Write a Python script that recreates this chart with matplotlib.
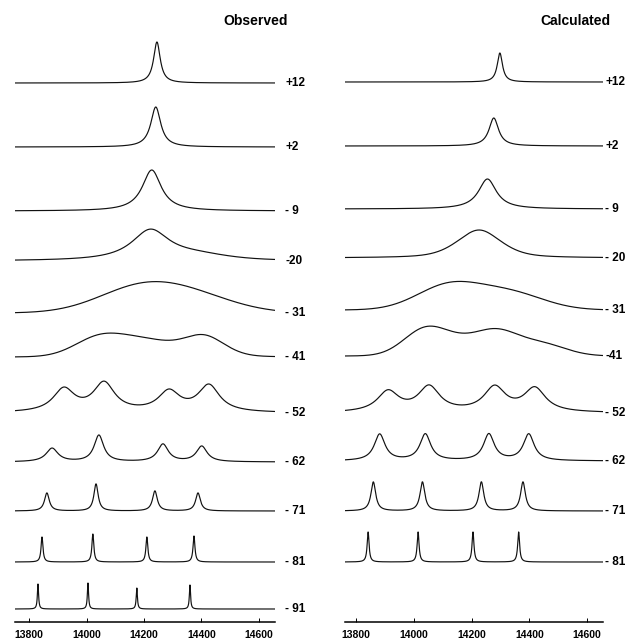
import numpy as np
import matplotlib.pyplot as plt

plt.rcParams["font.family"] = ["Liberation Sans", "DejaVu Sans"]

# temperature labels (deg C) for each trace
obs_labels = ["+12", "+2", "- 9", "-20", "- 31", "- 41", "- 52", "- 62", "- 71", "- 81", "- 91"]
calc_labels = ["+12", "+2", "- 9", "- 20", "- 31", "-41", "- 52", "- 62", "- 71", "- 81"]

# peaks: (centre Hz, fwhm Hz, height, lorentzian fraction)
obs_peaks = [
    [(14245, 28, 41, 1)],
    [(14241, 42, 40, 1)],
    [(14227, 80, 41, 1)],
    [(14222, 160, 30, 1), (14380, 260, 5, 0.5)],
    [(14185, 350, 24, 0), (14380, 350, 14, 0)],
    [(14040, 200, 17, 0), (14200, 250, 16, 0), (14410, 170, 20, 0.2)],
    [(13921, 90, 22.8, 1), (14061, 90, 28.6, 1), (14287, 90, 20.1, 1), (14426, 90, 26.5, 1)],
    [(13880, 50, 13.5, 1), (14043, 40, 26.5, 1), (14266, 45, 17.5, 1), (14401, 45, 15.5, 1)],
    [(13862, 20, 18, 1), (14033, 18, 27, 1), (14238, 20, 20, 1), (14388, 20, 18, 1)],
    [(13845, 8, 25, 1), (14022, 8, 28, 1), (14210, 8, 25, 1), (14374, 8, 26, 1)],
    [(13831, 5, 25, 1), (14005, 5, 26, 1), (14175, 5, 21, 1), (14360, 5, 24, 1)],
]
calc_peaks = [
    [(14298, 22, 29, 1)],
    [(14277, 40, 28, 1)],
    [(14255, 75, 30, 1)],
    [(14226, 180, 28, 0.5)],
    [(14120, 260, 24, 0), (14330, 280, 17, 0)],
    [(14045, 180, 28, 0), (14160, 150, 7, 0), (14280, 180, 24, 0), (14440, 200, 12, 0)],
    [(13911, 90, 20.5, 1), (14053, 90, 25, 1), (14280, 90, 24.5, 1), (14419, 90, 23.5, 1)],
    [(13882, 45, 26.5, 1), (14040, 45, 26.5, 1), (14260, 45, 26.5, 1), (14398, 45, 26.5, 1)],
    [(13860, 20, 29, 1), (14030, 20, 29, 1), (14234, 20, 29, 1), (14378, 20, 29, 1)],
    [(13842, 8, 30, 1), (14015, 8, 30, 1), (14205, 8, 30, 1), (14363, 8, 30, 1)],
]
freq_ticks = [13800, 14000, 14200, 14400, 14600]

# layout: baseline of each trace in figure pixels from the top
obs_base_px = [83, 147, 211, 261, 313, 357, 413, 462, 511, 562, 609]
calc_base_px = [82, 146, 209, 258, 310, 356, 413, 461, 511, 562]
AXIS_PX = 622
W, H = 636, 640


def lineshape(x, peaks):
    y = np.zeros_like(x)
    for c, w, h, eta in peaks:
        lor = 1.0 / (1.0 + ((x - c) / (w / 2)) ** 2)
        gau = np.exp(-4 * np.log(2) * ((x - c) / w) ** 2)
        y += h * (eta * lor + (1 - eta) * gau)
    return y


def draw_panel(rect_px, xlim, peaks, labels, base_px, title, title_x, label_x):
    left, right = rect_px
    ax = fig.add_axes([left / W, (H - AXIS_PX) / H, (right - left) / W, AXIS_PX / H])
    x = np.linspace(xlim[0], xlim[1], 4000)
    for pk, lab, b in zip(peaks, labels, base_px):
        off = AXIS_PX - b
        ax.plot(x, off + lineshape(x, pk), color="#111111", lw=0.85)
        fig.text(label_x / W, 1 - b / H, lab, fontsize=8.5, fontweight="bold",
                 ha="left", va="center")
    ax.set_xlim(*xlim)
    ax.set_ylim(0, AXIS_PX)
    for s in ["left", "right", "top"]:
        ax.spines[s].set_visible(False)
    ax.spines["bottom"].set_linewidth(1.1)
    ax.set_yticks([])
    ax.set_xticks(freq_ticks)
    ax.set_xticklabels([str(t) for t in freq_ticks])
    ax.tick_params(axis="x", direction="in", length=3, width=0.7, pad=6,
                   labelsize=7.5)
    for t in ax.get_xticklabels():
        t.set_fontweight("bold")
    fig.text(title_x / W, 1 - 21 / H, title, fontsize=10, fontweight="bold",
             ha="left", va="center")
    return ax


fig = plt.figure(figsize=(W / 100, H / 100), dpi=100)
draw_panel((15, 275), (13751, 14656), obs_peaks, obs_labels, obs_base_px,
           "Observed", 223, 285)
draw_panel((345, 603), (13762, 14655), calc_peaks, calc_labels, calc_base_px,
           "Calculated", 540, 605)

fig.savefig("out.png", dpi=100)
